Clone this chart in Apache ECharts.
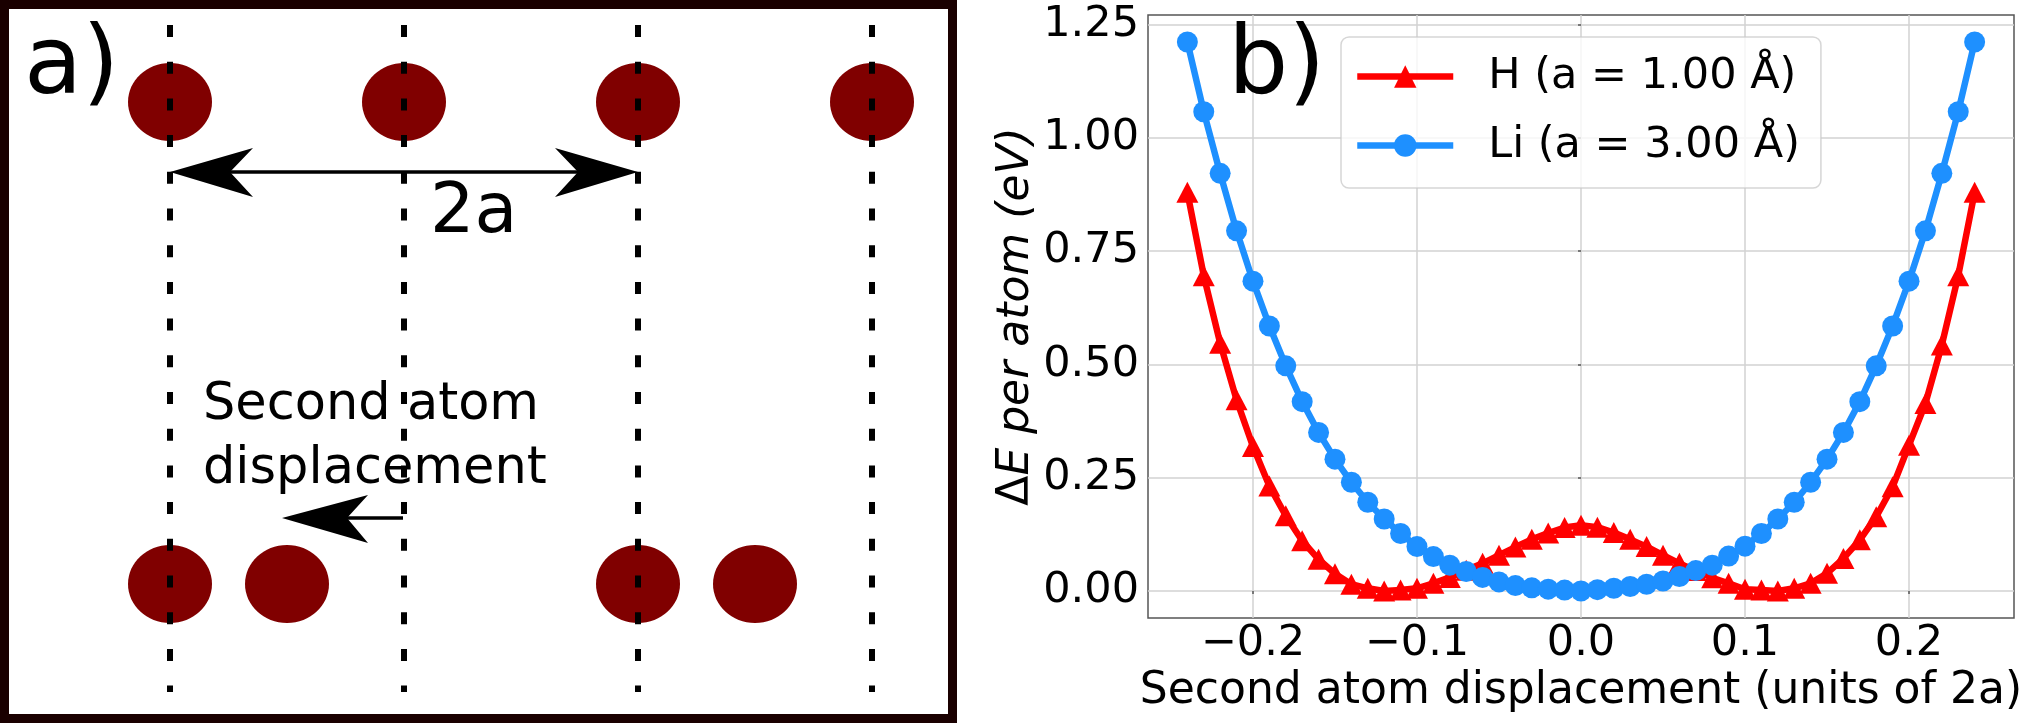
<!DOCTYPE html>
<html>
<head>
<meta charset="utf-8">
<style>
  html, body { margin: 0; padding: 0; background: #fff; }
  #ch1 { width: 2031px; height: 723px; }
</style>
<script src="https://cdn.jsdelivr.net/npm/echarts@6.0.0/dist/echarts.min.js"></script>
</head>
<body>
<div id="ch1"></div>
<script>
// displacement of the second atom (units of 2a)
var disp = [-0.24, -0.23, -0.22, -0.21, -0.20, -0.19, -0.18, -0.17, -0.16, -0.15,
  -0.14, -0.13, -0.12, -0.11, -0.10, -0.09, -0.08, -0.07, -0.06, -0.05,
  -0.04, -0.03, -0.02, -0.01, 0.00, 0.01, 0.02, 0.03, 0.04, 0.05,
  0.06, 0.07, 0.08, 0.09, 0.10, 0.11, 0.12, 0.13, 0.14, 0.15,
  0.16, 0.17, 0.18, 0.19, 0.20, 0.21, 0.22, 0.23, 0.24];

// dE per atom (eV)
var eH = [0.880, 0.696, 0.547, 0.422, 0.319, 0.232, 0.166, 0.111, 0.070, 0.038,
  0.015, 0.006, 0.000, 0.002, 0.006, 0.017, 0.030, 0.046, 0.061, 0.079,
  0.097, 0.114, 0.128, 0.140, 0.145, 0.141, 0.129, 0.114, 0.098, 0.079,
  0.061, 0.045, 0.029, 0.017, 0.004, 0.002, 0.000, 0.006, 0.017, 0.039,
  0.072, 0.113, 0.164, 0.230, 0.322, 0.414, 0.543, 0.696, 0.880];

var eLi = [1.212, 1.058, 0.922, 0.795, 0.684, 0.585, 0.497, 0.418, 0.350, 0.291,
  0.240, 0.196, 0.159, 0.127, 0.098, 0.076, 0.057, 0.043, 0.030, 0.020,
  0.012, 0.007, 0.004, 0.002, 0.000, 0.003, 0.006, 0.010, 0.015, 0.022,
  0.032, 0.045, 0.057, 0.077, 0.099, 0.127, 0.159, 0.196, 0.240, 0.291,
  0.350, 0.418, 0.497, 0.585, 0.684, 0.795, 0.922, 1.058, 1.212];

var seriesNames = ['H (a = 1.00 Å)', 'Li (a = 3.00 Å)'];
var xTicks = [-0.2, -0.1, 0.0, 0.1, 0.2];
var yTicks = [0, 0.25, 0.5, 0.75, 1.0, 1.25];

window.onload = function() {
  var ch1 = echarts.init(document.getElementById('ch1'));
  var ff = '"DejaVu Sans"';

  function pairs(ys) {
    return disp.map(function(x, i) { return [x, ys[i]]; });
  }

  // schematic of panel a)
  var g = [];
  g.push({ type: 'rect', shape: { x: 4.5, y: 4.5, width: 948, height: 714 },
    style: { fill: '#fff', stroke: '#1a0000', lineWidth: 9 }, z: 1 });
  var cols = [170, 404, 638, 872];
  cols.forEach(function(cx) {
    g.push({ type: 'ellipse', shape: { cx: cx, cy: 102, rx: 42, ry: 39 }, style: { fill: '#800000' }, z: 2 });
  });
  [170, 287, 638, 755].forEach(function(cx) {
    g.push({ type: 'ellipse', shape: { cx: cx, cy: 584, rx: 42, ry: 39 }, style: { fill: '#800000' }, z: 2 });
  });
  g.push({ type: 'text', x: 24, y: 68, z: 3,
    style: { text: 'a)', font: '95px ' + ff, fill: '#000', verticalAlign: 'middle' } });
  g.push({ type: 'text', x: 430, y: 214, z: 3,
    style: { text: '2a', font: '70px ' + ff, fill: '#000', verticalAlign: 'middle' } });
  g.push({ type: 'text', x: 203, y: 406, z: 3,
    style: { text: 'Second atom', font: '51px ' + ff, fill: '#000', verticalAlign: 'middle' } });
  g.push({ type: 'text', x: 203, y: 470, z: 3,
    style: { text: 'displacement', font: '51px ' + ff, fill: '#000', verticalAlign: 'middle' } });
  cols.forEach(function(cx) {
    g.push({ type: 'line', shape: { x1: cx, y1: 25, x2: cx, y2: 692 }, z: 4,
      style: { stroke: '#000', lineWidth: 6, lineDash: [12, 24.7] } });
  });
  // 2a arrow
  g.push({ type: 'line', shape: { x1: 228, y1: 172, x2: 580, y2: 172 }, z: 5, style: { stroke: '#000', lineWidth: 3.3 } });
  g.push({ type: 'polygon', z: 5, shape: { points: [[170, 172], [253, 148], [230, 172], [253, 197]] }, style: { fill: '#000' } });
  g.push({ type: 'polygon', z: 5, shape: { points: [[638, 172], [555, 148], [578, 172], [555, 197]] }, style: { fill: '#000' } });
  // displacement arrow
  g.push({ type: 'line', shape: { x1: 345, y1: 518, x2: 403, y2: 518 }, z: 5, style: { stroke: '#000', lineWidth: 3.3 } });
  g.push({ type: 'polygon', z: 5, shape: { points: [[282, 518], [368, 495], [347, 518], [368, 543]] }, style: { fill: '#000' } });
  // b) label
  g.push({ type: 'text', x: 1228, y: 68, z: 20,
    style: { text: 'b)', font: '95px ' + ff, fill: '#000', verticalAlign: 'middle' } });

  var op1 = {
    animation: false,
    backgroundColor: '#fff',
    graphic: g,
    grid: {
      left: 1148, top: 15, width: 866, height: 603,
      show: true, borderColor: '#555', borderWidth: 1.5, backgroundColor: '#fff'
    },
    legend: {
      orient: 'vertical',
      left: 1341, top: 37,
      itemWidth: 96, itemHeight: 28, itemGap: 26,
      padding: [18, 21, 21, 13],
      backgroundColor: 'rgba(255,255,255,0.8)',
      borderColor: 'rgba(204,204,204,0.8)', borderWidth: 1.5, borderRadius: 8,
      lineStyle: { width: 6.5 },
      textStyle: { fontSize: 43, fontFamily: ff, color: '#000', padding: [0, 0, 0, 30] },
      data: seriesNames
    },
    xAxis: {
      type: 'value', min: -0.264, max: 0.264,
      name: 'Second atom displacement (units of 2a)',
      nameLocation: 'middle', nameGap: 51,
      nameTextStyle: { fontSize: 44, fontFamily: ff, color: '#000' },
      axisLine: { show: false },
      axisTick: { show: true, length: 3, customValues: xTicks, lineStyle: { color: '#555', width: 1.5 } },
      axisLabel: {
        customValues: xTicks, margin: 4, fontSize: 43, fontFamily: ff, color: '#000',
        formatter: function(v) { return v.toFixed(1).replace('-', '\u2212'); }
      },
      splitLine: { show: true, lineStyle: { color: '#d2d2d2', width: 1.5 } }
    },
    yAxis: {
      type: 'value', min: -0.0596, max: 1.2715,
      name: '{n|\u0394}{i|E per atom (eV)}',
      nameLocation: 'middle', nameGap: 109,
      nameTextStyle: {
        fontSize: 44, fontFamily: ff, color: '#000',
        rich: {
          n: { fontSize: 44, fontFamily: ff, color: '#000' },
          i: { fontSize: 44, fontFamily: ff, color: '#000', fontStyle: 'italic' }
        }
      },
      axisLine: { show: false },
      axisTick: { show: true, length: 3, customValues: yTicks, lineStyle: { color: '#555', width: 1.5 } },
      axisLabel: {
        customValues: yTicks, margin: 9, fontSize: 43, fontFamily: ff, color: '#000',
        formatter: function(v) { return v.toFixed(2); }
      },
      splitLine: { show: true, lineStyle: { color: '#d2d2d2', width: 1.5 } }
    },
    series: [{
      name: seriesNames[0],
      type: 'line',
      data: pairs(eH),
      symbol: 'triangle',
      symbolSize: [22, 21],
      showAllSymbol: true,
      lineStyle: { color: '#ff0000', width: 6.5 },
      itemStyle: { color: '#ff0000' },
      z: 3
    }, {
      name: seriesNames[1],
      type: 'line',
      data: pairs(eLi),
      symbol: 'circle',
      symbolSize: 21,
      showAllSymbol: true,
      lineStyle: { color: '#1e90ff', width: 6.5 },
      itemStyle: { color: '#1e90ff' },
      z: 4
    }]
  };

  ch1.setOption(op1);
};
</script>
</body>
</html>
